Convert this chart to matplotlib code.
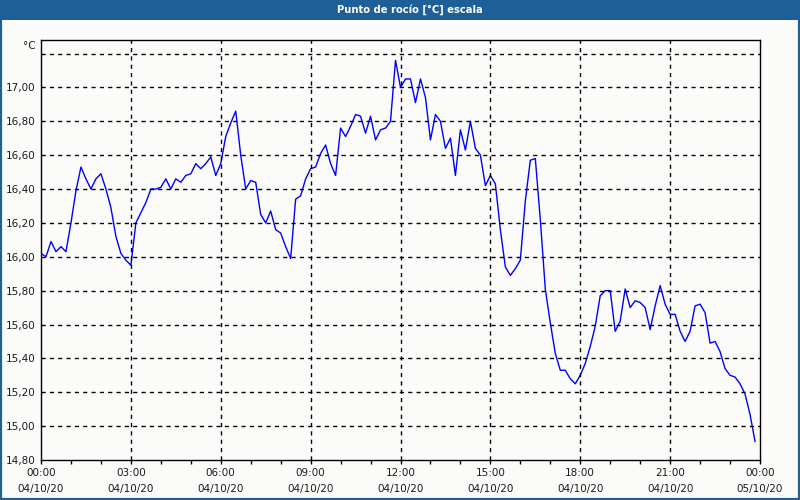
import matplotlib
matplotlib.use('Agg')
import matplotlib.pyplot as plt
import matplotlib.dates as mdates
import pandas as pd
from matplotlib.patches import Rectangle

# dew point readings, one every 10 minutes, one row per hour
dew_point = [
    16.02, 16.00, 16.09, 16.03, 16.06, 16.03,  # 00h
    16.20, 16.39, 16.53, 16.46, 16.40, 16.46,  # 01h
    16.49, 16.40, 16.29, 16.12, 16.02, 15.98,  # 02h
    15.95, 16.20, 16.26, 16.32, 16.40, 16.40,  # 03h
    16.41, 16.46, 16.40, 16.46, 16.44, 16.48,  # 04h
    16.49, 16.55, 16.52, 16.55, 16.59, 16.48,  # 05h
    16.55, 16.71, 16.79, 16.86, 16.60, 16.40,  # 06h
    16.45, 16.44, 16.25, 16.20, 16.27, 16.16,  # 07h
    16.14, 16.06, 15.99, 16.34, 16.36, 16.46,  # 08h
    16.52, 16.53, 16.61, 16.66, 16.55, 16.48,  # 09h
    16.76, 16.71, 16.77, 16.84, 16.83, 16.73,  # 10h
    16.83, 16.69, 16.75, 16.76, 16.80, 17.16,  # 11h
    17.00, 17.05, 17.05, 16.91, 17.05, 16.94,  # 12h
    16.69, 16.84, 16.80, 16.64, 16.70, 16.48,  # 13h
    16.75, 16.63, 16.80, 16.64, 16.60, 16.42,  # 14h
    16.48, 16.43, 16.16, 15.94, 15.89, 15.93,  # 15h
    15.98, 16.33, 16.57, 16.58, 16.22, 15.81,  # 16h
    15.61, 15.43, 15.33, 15.33, 15.28, 15.25,  # 17h
    15.30, 15.37, 15.47, 15.59, 15.77, 15.80,  # 18h
    15.80, 15.56, 15.62, 15.81, 15.70, 15.74,  # 19h
    15.73, 15.70, 15.57, 15.71, 15.83, 15.72,  # 20h
    15.66, 15.66, 15.56, 15.50, 15.56, 15.71,  # 21h
    15.72, 15.67, 15.49, 15.50, 15.44, 15.34,  # 22h
    15.30, 15.29, 15.25, 15.19, 15.07, 14.91,  # 23h
]
times = pd.date_range('2020-10-04 00:00', periods=len(dew_point), freq='10min')

x_ticks = pd.date_range('2020-10-04 00:00', '2020-10-05 00:00', freq='3h')
x_labels = [t.strftime('%H:%M\n%d/%m/%y') for t in x_ticks]
y_ticks = [14.8, 15.0, 15.2, 15.4, 15.6, 15.8, 16.0, 16.2, 16.4, 16.6, 16.8, 17.0, 17.2]
y_labels = [('%.2f' % v).replace('.', ',') for v in y_ticks[:-1]] + ['']

title = 'Punto de rocío [°C] escala'
bg = '#fbfcfa'
frame_blue = '#1f5f97'

fig = plt.figure(figsize=(8, 5), dpi=100, facecolor=bg)
ax = fig.add_axes([41 / 800, 40 / 500, 719 / 800, 420 / 500])
ax.set_facecolor(bg)

ax.plot(times, dew_point, color='#0000ff', linewidth=1.0)

ax.set_xlim(x_ticks[0], x_ticks[-1])
ax.set_ylim(14.8, 17.28)
ax.set_xticks(x_ticks)
ax.set_xticklabels(x_labels, linespacing=1.75, fontsize=7.5, color='#1a1a1a')
ax.xaxis.set_minor_locator(mdates.HourLocator())
ax.set_yticks(y_ticks)
ax.set_yticklabels(y_labels, fontsize=7.5, color='#1a1a1a')
ax.tick_params(axis='x', which='both', direction='out', length=3, width=1, pad=3)
ax.tick_params(axis='y', length=0, pad=4)

# dashed grid, skip the edges
for t in x_ticks[1:-1]:
    ax.axvline(t, color='black', linestyle=(0, (3, 3)), linewidth=1)
for v in y_ticks[1:]:
    ax.axhline(v, color='black', linestyle=(0, (3, 3)), linewidth=1)

for s in ax.spines.values():
    s.set_color('black')
    s.set_linewidth(1)

fig.text(36 / 800, 1 - 46 / 500, '°C', ha='right', va='center', fontsize=7.5, color='#1a1a1a')

# window title bar and frame
fig.patches.append(Rectangle((0, 1 - 20 / 500), 1, 20 / 500, transform=fig.transFigure,
                             facecolor=frame_blue, edgecolor='none', zorder=0))
fig.patches.append(Rectangle((0, 0), 1, 1, transform=fig.transFigure,
                             facecolor='none', edgecolor=frame_blue, linewidth=3, zorder=0))
fig.text(410 / 800, 1 - 10 / 500, title, ha='center', va='center', color='white',
         fontsize=7.2, fontweight='bold')

fig.savefig('out.png', dpi=100, facecolor=bg)
